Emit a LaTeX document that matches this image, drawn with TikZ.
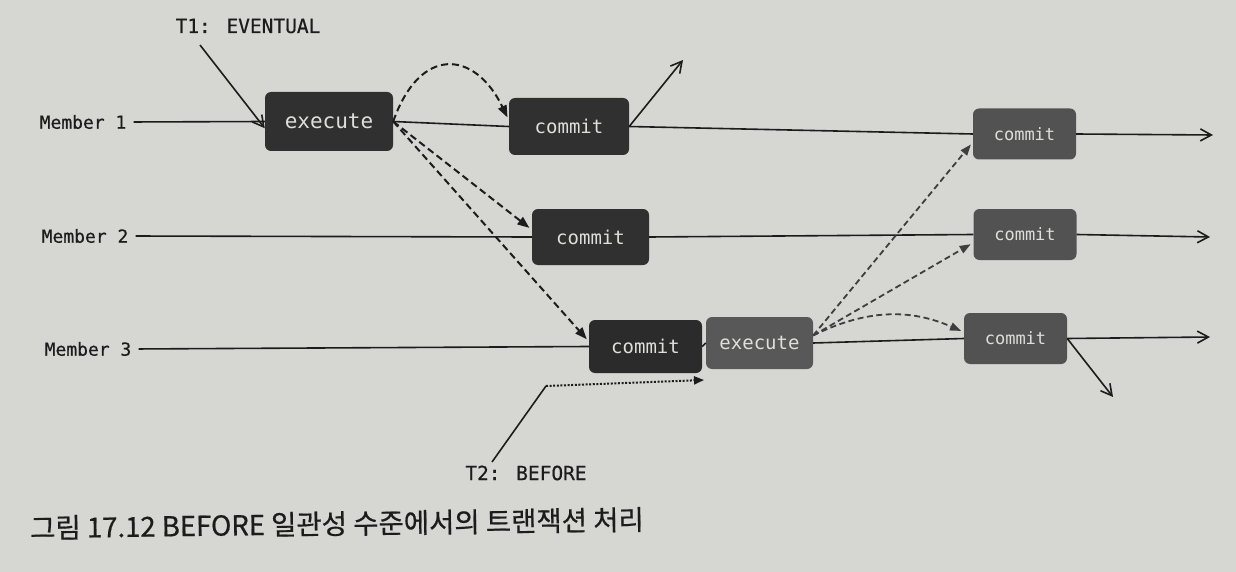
\documentclass[tikz,border=0pt]{standalone}
\usepackage{fontspec}
\setmonofont{DejaVu Sans Mono}
\newfontfamily\krfont[FakeBold=0.6]{Noto Sans CJK KR}
\newfontfamily\labfont[FakeBold=0.5]{DejaVu Sans Mono}
\usetikzlibrary{arrows.meta}
\definecolor{bg}{RGB}{214,214,211}
\definecolor{boxdark}{RGB}{48,48,48}
\definecolor{boxmid}{RGB}{88,88,88}
\definecolor{boxright}{RGB}{82,82,82}
\definecolor{ink}{RGB}{28,28,28}
\definecolor{boxtext}{RGB}{222,222,218}
\begin{document}
\begin{tikzpicture}[x=1pt,y=-1pt,
  lab/.style={font=\labfont\fontsize{18}{20}\selectfont, text=ink, inner sep=2pt},
  tlab/.style={font=\labfont\fontsize{19.5}{22}\selectfont, text=ink, inner sep=2pt},
  box/.style={rounded corners=6pt, text=boxtext, inner sep=0pt, font=\ttfamily\fontsize{19}{21}\selectfont},
  rbox/.style={box, fill=boxright, minimum width=103pt, minimum height=51pt, font=\ttfamily\fontsize{17}{19}\selectfont},
  tl/.style={draw=ink, line width=1.6pt},
  tla/.style={tl, -{Straight Barb[length=11pt,width=12pt,line width=1.6pt]}},
  dsh/.style={draw=ink, line width=2pt, dash pattern=on 7pt off 4pt, -{Triangle[length=12pt,width=9pt]}, shorten >=3pt},
  dsh2/.style={dsh, draw=ink!85, line width=1.8pt, dash pattern=on 6pt off 3.5pt, -{Triangle[length=11pt,width=8pt]}},
]
\fill[bg] (0,0) rectangle (1236,572);

% row labels
\node[lab] (m1) at (83,122) {Member 1};
\node[lab] (m2) at (85,236) {Member 2};
\node[lab] (m3) at (88,349) {Member 3};

% boxes
\node[box, fill=boxdark, minimum width=128pt, minimum height=59pt, font=\ttfamily\fontsize{21}{23}\selectfont] (ex1) at (329,121.5) {execute};
\node[box, fill=boxdark, minimum width=120pt, minimum height=57pt] (c1) at (569,126.5) {commit};
\node[box, fill=boxdark, minimum width=117pt, minimum height=56pt] (c2) at (590.5,237) {commit};
\node[box, fill=boxdark!90!black, minimum width=113pt, minimum height=53pt] (c3) at (645.5,346.5) {commit};
\node[box, fill=boxmid, minimum width=107pt, minimum height=52pt] (ex2) at (759.5,343) {execute};
\node[rbox] (rc1) at (1024.5,134) {commit};
\node[rbox] (rc2) at (1025,234.5) {commit};
\node[rbox] (rc3) at (1015.5,338.5) {commit};

% end points
\coordinate (e1) at (1213,135);
\coordinate (e2) at (1210,237);
\coordinate (e3) at (1210,337);
\coordinate (u1) at (683,60);
\coordinate (d3) at (1113,397);

% timelines
\draw[tl, shorten <=5pt] (m1.east) -- (ex1.west);
\draw[tl] (ex1.east) -- (c1.west);
\draw[tl] (c1.east) -- (rc1.west);
\draw[tla] (rc1.east) -- (e1);
\draw[tl, shorten <=5pt] (m2.east) -- (c2.west);
\draw[tl] (c2.east) -- (rc2.west);
\draw[tla] (rc2.east) -- (e2);
\draw[tl, shorten <=5pt] (m3.east) -- (c3.west);
\draw[tl] (c3.east) -- (ex2.west);
\draw[tl] (ex2.east) -- (rc3.west);
\draw[tla] (rc3.east) -- (e3);
\draw[tla] (c1.east) -- (u1);
\draw[tla] (rc3.east) -- (d3);

% T1
\node[tlab] (t1) at (248,26) {T1: EVENTUAL};
\coordinate (t1a) at (200,45);
\draw[tla] (t1a) -- (ex1.186);

% T2
\node[tlab] (t2) at (526,473) {T2: BEFORE};
\coordinate (t2a) at (492,462);
\coordinate (t2b) at (546,386);
\coordinate (t2c) at (704,380);
\draw[tl] (t2a) -- (t2b);
\draw[draw=ink, line width=2pt, dash pattern=on 2pt off 1.6pt, -{Triangle[length=10pt,width=8pt]}] (t2b) -- (t2c);

% replication from execute 1
\draw[dsh] (ex1.east) .. controls (420,45) and (475,50) .. (c1.174);
\draw[dsh] (ex1.east) -- (c2.173);
\draw[dsh] (ex1.east) -- (c3.175);

% replication from execute 2
\draw[dsh2] (ex2.8) -- (rc1.189);
\draw[dsh2] (ex2.8) -- (rc2.189);
\draw[dsh2] (ex2.8) to[bend left=25] (rc3.173);

% caption
\node[font=\krfont\fontsize{27.5}{30}\selectfont, text=ink, anchor=west, rotate=0.8, inner sep=0pt] (cap) at (30,528) {그림 17.12 BEFORE 일관성 수준에서의 트랜잭션 처리};
\end{tikzpicture}
\end{document}
